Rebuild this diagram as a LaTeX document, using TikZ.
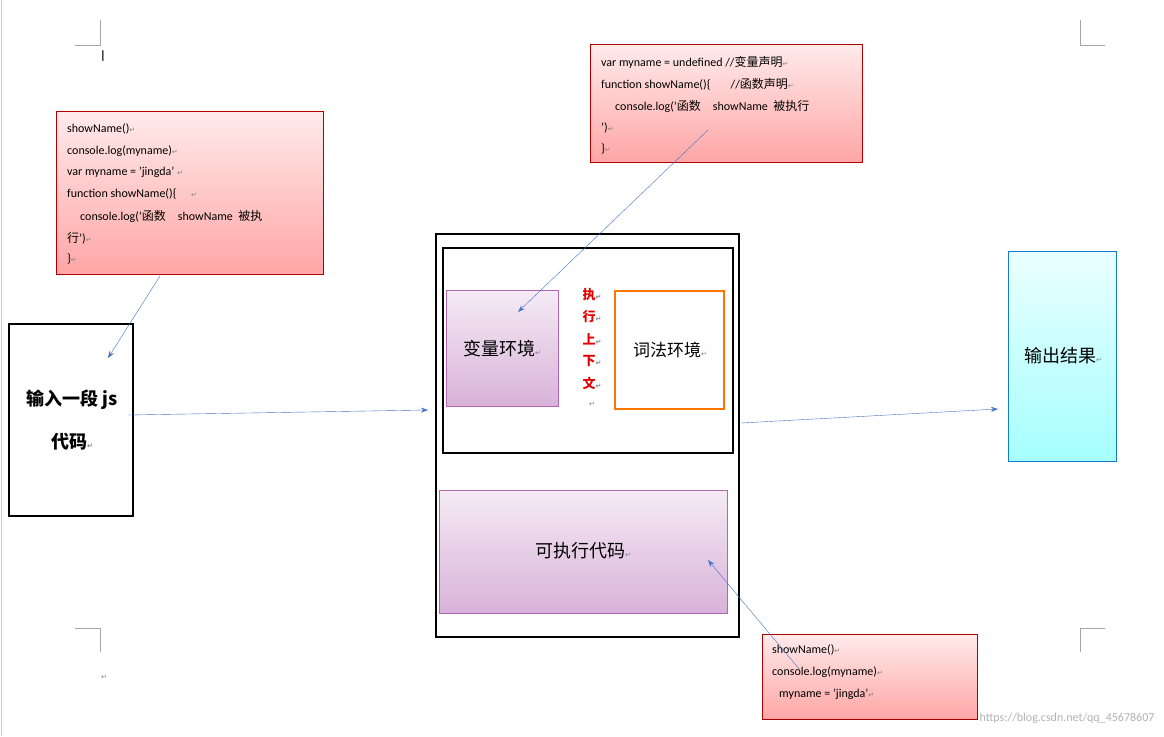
\documentclass[tikz,border=0pt]{standalone}
\usepackage{fontspec}
\setmainfont{Carlito}
\newfontfamily\cjk{Noto Sans CJK SC}
\newfontfamily\djv{DejaVu Sans}
\newcommand{\rt}{{\color{gray}\djv\scriptsize ↵}}
\definecolor{arrowblue}{RGB}{68,114,196}
\usetikzlibrary{arrows.meta}
\tikzset{
 redbox/.style={draw=red!70!black, top color=red!8, bottom color=red!35},
 codetext/.style={anchor=west, inner sep=0pt, font=\fontsize{12}{14}\selectfont},
 purplebox/.style={draw=violet!60, top color=violet!8, bottom color=violet!30},
 thickbox/.style={draw=black, line width=2pt},
 conn/.style={draw=arrowblue, -{Stealth[length=7pt,width=5pt]}},
 big/.style={font=\cjk\fontsize{18}{20}\selectfont\bfseries},
 cornermark/.style={draw=gray!70, line width=0.6pt}
}
\begin{document}
\begin{tikzpicture}[x=1pt,y=-1pt]
\useasboundingbox[fill=white] (0,0) rectangle (1164,736);
\draw[gray!40] (1,0) -- (1,736);
% corner marks
\draw[cornermark] (75,45)--(100,45)--(100,20);
\draw[cornermark] (1105,45)--(1080,45)--(1080,20);
\draw[cornermark] (75,628)--(100,628)--(100,652);
\draw[cornermark] (1105,628)--(1080,628)--(1080,652);
\node[inner sep=0pt] (cursor) at (103,56) {\bfseries\large |};
\node[inner sep=0pt] (r0) at (104,677) {\rt};
% red box 1
\path[redbox] (56,111) rectangle (323,274);
\node[codetext] (t11) at (67,129) {showName()\rt};
\node[codetext] (t12) at (67,151) {console.log(myname)\rt};
\node[codetext] (t13) at (67,172) {var myname = 'jingda' \rt};
\node[codetext] (t14) at (67,194) {function showName()\{ \quad\rt};
\node[codetext] (t15) at (80,216) {console.log('{\cjk 函数}\quad showName\ \ {\cjk 被执}};
\node[codetext] (t16) at (67,238) {{\cjk 行}')\rt};
\node[codetext] (t17) at (67,259) {\}\rt};
% red box 2
\path[redbox] (590,44) rectangle (862,162);
\node[codetext] (t21) at (601,62) {var myname = undefined //{\cjk 变量声明}\rt};
\node[codetext] (t22) at (601,84) {function showName()\{ \quad\ \ //{\cjk 函数声明}\rt};
\node[codetext] (t23) at (615,106) {console.log('{\cjk 函数}\quad showName\ \ {\cjk 被执行}};
\node[codetext] (t24) at (601,128) {')\rt};
\node[codetext] (t25) at (601,149) {\}\rt};
% red box 3
\path[redbox] (762,634) rectangle (977,719);
\node[codetext] (t31) at (772,650) {showName()\rt};
\node[codetext] (t32) at (772,672) {console.log(myname)\rt};
\node[codetext] (t33) at (779,694) {myname = 'jingda'\rt};
% input box
\path[thickbox] (9,324) rectangle (133,516);
\node[big] (in1) at (72,400) {输入一段 js};
\node[big] (in2) at (72,442) {代码\rt};
% outer
\path[thickbox] (436,234) rectangle (739,637);
\path[draw=black, line width=1.6pt] (443,248) rectangle (733,453);
\path[purplebox] (446,290) rectangle (558,406);
\node[big, font=\cjk\fontsize{18}{20}\selectfont] (ve) at (502,349) {变量环境\rt};
\path[draw=orange!90!red, line width=1.6pt] (615,291) rectangle (724,409);
\node[big, font=\cjk\fontsize{17}{20}\selectfont] (le) at (670,350) {词法环境\rt};
\foreach \c/\y in {执/295,行/317,上/339,下/361,文/383}
  \node[inner sep=0pt, text=red!90!black, font=\cjk\fontsize{13}{14}\selectfont\bfseries] at (592,\y) {\c\rt};
\node[inner sep=0pt] at (592,404) {\rt};
\path[purplebox] (439,490) rectangle (727,613);
\node[big, font=\cjk\fontsize{18}{20}\selectfont] (ex) at (583,551) {可执行代码\rt};
% output
\path[draw=cyan!60!blue, top color=cyan!8, bottom color=cyan!35] (1008,251) rectangle (1116,461);
\node[big, font=\cjk\fontsize{18}{20}\selectfont] (out) at (1063,356) {输出结果\rt};
% arrows
\coordinate (a1s) at (160,276); \coordinate (a1e) at (108,358);
\coordinate (a2s) at (128,415); \coordinate (a2e) at (428,410);
\coordinate (a3s) at (708,130); \coordinate (a3e) at (518,312);
\coordinate (a4s) at (741,423); \coordinate (a4e) at (998,409);
\coordinate (a5s) at (800,670); \coordinate (a5e) at (708,560);
\draw[conn] (a1s) -- (a1e);
\draw[conn] (a2s) -- (a2e);
\draw[conn] (a3s) -- (a3e);
\draw[conn] (a4s) -- (a4e);
\draw[conn] (a5s) -- (a5e);
\node[anchor=east, text=gray!60, font=\fontsize{12}{14}\selectfont] (wm) at (1158,718) {https://blog.csdn.net/qq\_45678607};
\end{tikzpicture}
\end{document}
